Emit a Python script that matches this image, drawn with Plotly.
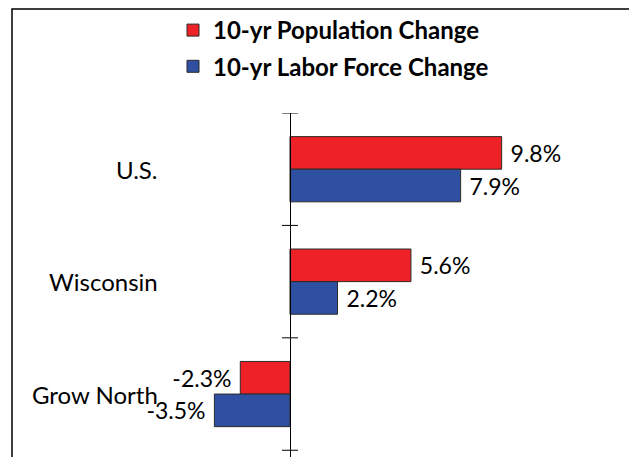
import plotly.graph_objects as go

categories = ["U.S.", "Wisconsin", "Grow North"]
population_change = [9.8, 5.6, -2.3]
labor_force_change = [7.9, 2.2, -3.5]
series_names = ["10-yr Population Change", "10-yr Labor Force Change"]

W, H = 629, 457
ml, mr, mt, mb = 20, 20, 113, 0
x_range = [-12.5, 14.77]
zero_pos = (0 - x_range[0]) / (x_range[1] - x_range[0])

def px_x(p):
    return (p - ml) / (W - ml - mr)

def px_y(p):
    return (H - mb - p) / (H - mt - mb)

FONT = "Lato"
bar_line = dict(color="#2b2b2b", width=1)

def label_templates(values):
    return [" %{x:.1f}%" if v >= 0 else "%{x:.1f}% " for v in values]

fig = go.Figure()
fig.add_trace(go.Bar(
    y=categories, x=population_change, orientation="h", name=series_names[0],
    marker=dict(color="#EE2226", line=bar_line),
    texttemplate=label_templates(population_change), textposition="outside",
    constraintext="none", cliponaxis=False,
    textfont=dict(family=FONT, size=23, color="black"),
    legendgroup="a",
))
fig.add_trace(go.Bar(
    y=categories, x=labor_force_change, orientation="h", name=series_names[1],
    marker=dict(color="#2F4FA1", line=bar_line),
    texttemplate=label_templates(labor_force_change), textposition="outside",
    constraintext="none", cliponaxis=False,
    textfont=dict(family=FONT, size=23, color="black"),
    legendgroup="b",
))

for cat in categories:
    fig.add_annotation(
        x=-6.0, y=cat, xref="x", yref="y", text=cat, showarrow=False,
        xanchor="right", yanchor="middle",
        font=dict(family=FONT, size=24, color="black"),
    )

# crossing tick marks at the category boundaries of the value-zero axis
for i in range(len(categories) + 1):
    fig.add_shape(
        type="line", xref="x", yref="y", xsizemode="pixel", xanchor=0,
        x0=-8, x1=8, y0=i - 0.5, y1=i - 0.5,
        line=dict(color="black", width=1), layer="above",
    )

fig.add_shape(
    type="rect", xref="paper", yref="paper",
    x0=px_x(12), x1=px_x(700), y0=px_y(520), y1=px_y(9),
    line=dict(color="black", width=1.5), fillcolor="rgba(0,0,0,0)", layer="above",
)

y_range = [2.56, -0.5]
fig.update_layout(
    width=W, height=H,
    margin=dict(l=ml, r=mr, t=mt, b=mb, autoexpand=False),
    paper_bgcolor="white", plot_bgcolor="white",
    barmode="group", bargap=0.42, bargroupgap=0,
    showlegend=True,
    legend=dict(
        x=px_x(173), y=px_y(8), xanchor="left", yanchor="top",
        font=dict(family=FONT, size=24, color="black", weight="bold"),
        traceorder="grouped", tracegroupgap=2, bgcolor="rgba(0,0,0,0)",
    ),
    xaxis=dict(range=x_range, visible=False, zeroline=False, showgrid=False,
               automargin=False),
    yaxis=dict(
        type="category", categoryorder="array", categoryarray=categories,
        range=y_range, anchor="free", position=zero_pos, automargin=False,
        showline=True, linecolor="black", linewidth=1, ticks="",
        showticklabels=False, showgrid=False, zeroline=False,
    ),
)

fig.write_html(
    "out.html",
    config={"displayModeBar": False},
    post_script="document.body.style.margin='0';",
)
